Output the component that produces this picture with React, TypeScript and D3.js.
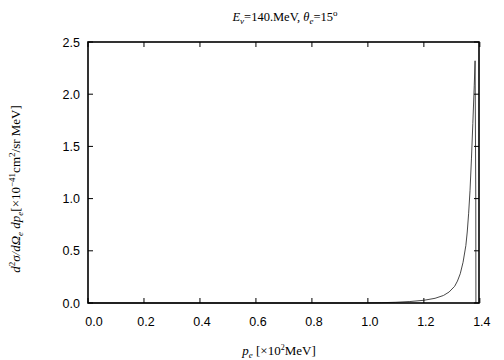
import React from "react";
import * as d3 from "d3";

const xTicks = [0, 0.2, 0.4, 0.6, 0.8, 1.0, 1.2, 1.4];
const yTicks = [0, 0.5, 1.0, 1.5, 2.0, 2.5];
const pe = [0, 0.5, 0.9, 1.0, 1.05, 1.1, 1.15, 1.2, 1.24, 1.27, 1.29, 1.31, 1.32, 1.33, 1.34, 1.35, 1.355, 1.36, 1.365, 1.37, 1.375, 1.38, 1.383, 1.3855, 1.386];
const xsec = [0, 0, 0, 0.001, 0.003, 0.007, 0.014, 0.026, 0.045, 0.072, 0.105, 0.16, 0.21, 0.28, 0.39, 0.55, 0.68, 0.86, 1.08, 1.38, 1.72, 2.08, 2.32, 1.0, 0.0];

export default function App() {
  const W = 504, H = 360;
  const left = 88, right = 479, top = 42, bottom = 303;
  const x = d3.scaleLinear().domain([0, 1.397]).range([left, right]);
  const y = d3.scaleLinear().domain([0, 2.5]).range([bottom, top]);
  const line = d3.line<number>().x((_, i) => x(pe[i])).y((d) => y(d));
  const tk = 5;
  const sans = "'Liberation Sans', Arial, sans-serif";
  const serif = "'Liberation Serif', 'Times New Roman', serif";
  return (
    <svg width={W} height={H} style={{ position: "absolute", left: 0, top: 0 }}>
      <rect width={W} height={H} fill="white" />
      <path d={line(xsec) || ""} fill="none" stroke="#333" strokeWidth={0.9} />
      {xTicks.map((t) => (
        <g key={"x" + t}>
          <line x1={x(t)} x2={x(t)} y1={bottom} y2={bottom - tk} stroke="black" strokeWidth={1} />
          <line x1={x(t)} x2={x(t)} y1={top} y2={top + tk} stroke="black" strokeWidth={1} />
          <text x={x(t) + (t === 0 ? 6 : 2)} y={bottom + 23} textAnchor="middle" fontFamily={sans} fontSize={12.5}>{t.toFixed(1)}</text>
        </g>
      ))}
      {yTicks.map((t) => (
        <g key={"y" + t}>
          <line x1={left} x2={left + tk} y1={y(t)} y2={y(t)} stroke="black" strokeWidth={1} />
          <line x1={right} x2={right - tk} y1={y(t)} y2={y(t)} stroke="black" strokeWidth={1} />
          <text x={left - 8} y={y(t) + 4.5} textAnchor="end" fontFamily={sans} fontSize={12.5}>{t.toFixed(1)}</text>
        </g>
      ))}
      <rect x={left} y={top} width={right - left} height={bottom - top} fill="none" stroke="black" strokeWidth={1.6} />
      <text x={285} y={21} textAnchor="middle" fontFamily={serif} fontSize={12.5}>
        <tspan fontStyle="italic">E</tspan>
        <tspan fontSize={9} dy={3} fontStyle="italic">ν</tspan>
        <tspan dy={-3}>=140.MeV,  </tspan>
        <tspan fontStyle="italic">θ</tspan>
        <tspan fontSize={9} dy={3} fontStyle="italic">e</tspan>
        <tspan dy={-3}>=15</tspan>
        <tspan fontSize={9} dy={-5}>o</tspan>
      </text>
      <text x={279} y={355} textAnchor="middle" fontFamily={serif} fontSize={13}>
        <tspan fontStyle="italic">p</tspan>
        <tspan fontSize={9} dy={3} fontStyle="italic">e</tspan>
        <tspan dy={-3}> [×10</tspan>
        <tspan fontSize={8} dy={-5}>2</tspan>
        <tspan dy={5}>MeV]</tspan>
      </text>
      <text transform="translate(20,189) rotate(-90)" textAnchor="middle" fontFamily={serif} fontSize={13}>
        <tspan fontStyle="italic">d</tspan>
        <tspan fontSize={9} dy={-5}>2</tspan>
        <tspan dy={5} fontStyle="italic">σ/dΩ</tspan>
        <tspan fontSize={9} dy={3} fontStyle="italic">e</tspan>
        <tspan dy={-3} fontStyle="italic"> dp</tspan>
        <tspan fontSize={9} dy={3} fontStyle="italic">e</tspan>
        <tspan dy={-3}>[×10</tspan>
        <tspan fontSize={9} dy={-5}>−41</tspan>
        <tspan dy={5}>cm</tspan>
        <tspan fontSize={9} dy={-5}>2</tspan>
        <tspan dy={5}>/sr MeV]</tspan>
      </text>
    </svg>
  );
}
